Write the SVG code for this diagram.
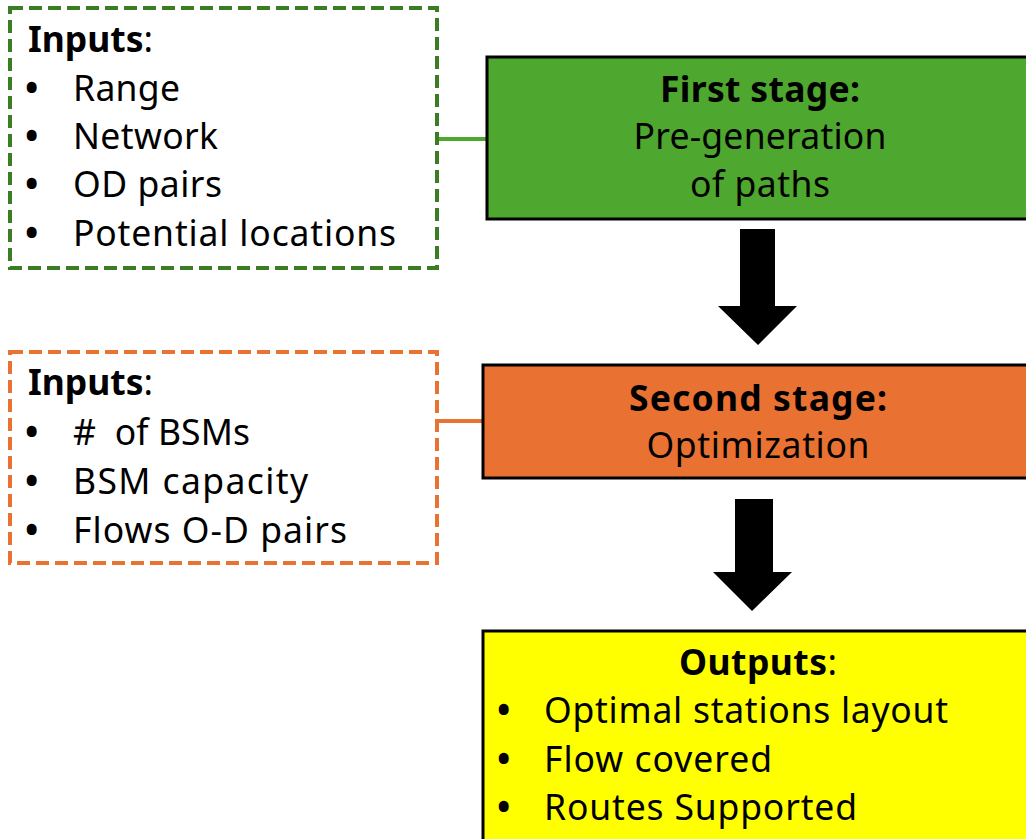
<svg xmlns="http://www.w3.org/2000/svg" width="1026" height="839" viewBox="0 0 1026 839">
<style>
text{font-family:"Noto Sans","Open Sans","Liberation Sans",sans-serif;font-size:35.5px;fill:#000}
.b{font-weight:bold}
.c{text-anchor:middle}
.bu{font-weight:bold}
.pre{white-space:pre}
.dash{fill:none;stroke-width:4;stroke-dasharray:13 6}
.box{stroke:#000;stroke-width:3}
.arrow{fill:#000}
</style>
<rect width="1026" height="839" fill="#fff"/>
<g id="connectors">
<line x1="437" y1="139" x2="487" y2="139" stroke="#4EA72E" stroke-width="4"/>
<line x1="437" y1="421" x2="483" y2="421" stroke="#E97132" stroke-width="4"/>
<polygon class="arrow" points="740,229 775,229 775,306 797,306 758,345 718,306 740,306"/>
<polygon class="arrow" points="735,499 773,499 773,572 792,572 752,611 713,572 735,572"/>
</g>
<g id="inputs1">
<rect class="dash" x="10" y="8" width="427" height="260" stroke="#3B7D23"/>
<text x="28" y="52" textLength="125"><tspan class="b">Inputs</tspan>:</text>
<text class="bu" x="25" y="101">•</text><text x="73" y="101" textLength="107">Range</text>
<text class="bu" x="25" y="149">•</text><text x="73" y="149" textLength="145">Network</text>
<text class="bu" x="25" y="197">•</text><text x="73" y="197" textLength="149">OD pairs</text>
<text class="bu" x="25" y="246">•</text><text x="73" y="246" textLength="323">Potential locations</text>
</g>
<g id="stage1">
<rect class="box" x="487" y="57" width="560" height="162" fill="#4EA72E"/>
<text class="b c" x="760" y="102" textLength="200">First stage:</text>
<text class="c" x="760" y="149" textLength="253">Pre-generation</text>
<text class="c" x="760" y="197" textLength="140">of paths</text>
</g>
<g id="inputs2">
<rect class="dash" x="10" y="352" width="427" height="211" stroke="#E97132"/>
<text x="28" y="395" textLength="125"><tspan class="b">Inputs</tspan>:</text>
<text class="bu" x="25" y="445">•</text><text class="pre" x="73" y="445" textLength="177">#  of BSMs</text>
<text class="bu" x="25" y="494">•</text><text x="73" y="494" textLength="235">BSM capacity</text>
<text class="bu" x="25" y="543">•</text><text x="73" y="543" textLength="274">Flows O-D pairs</text>
</g>
<g id="stage2">
<rect class="box" x="483" y="365" width="560" height="113" fill="#E97132"/>
<text class="b c" x="758" y="411" textLength="258">Second stage:</text>
<text class="c" x="758" y="458" textLength="223">Optimization</text>
</g>
<g id="outputs">
<rect class="box" x="483" y="631" width="560" height="230" fill="#FFFF00"/>
<text x="679" y="675" textLength="158"><tspan class="b">Outputs</tspan>:</text>
<text class="bu" x="497" y="723">•</text><text x="544" y="723" textLength="404">Optimal stations layout</text>
<text class="bu" x="497" y="772">•</text><text x="544" y="772" textLength="228">Flow covered</text>
<text class="bu" x="497" y="820">•</text><text x="544" y="820" textLength="313">Routes Supported</text>
</g>
</svg>
